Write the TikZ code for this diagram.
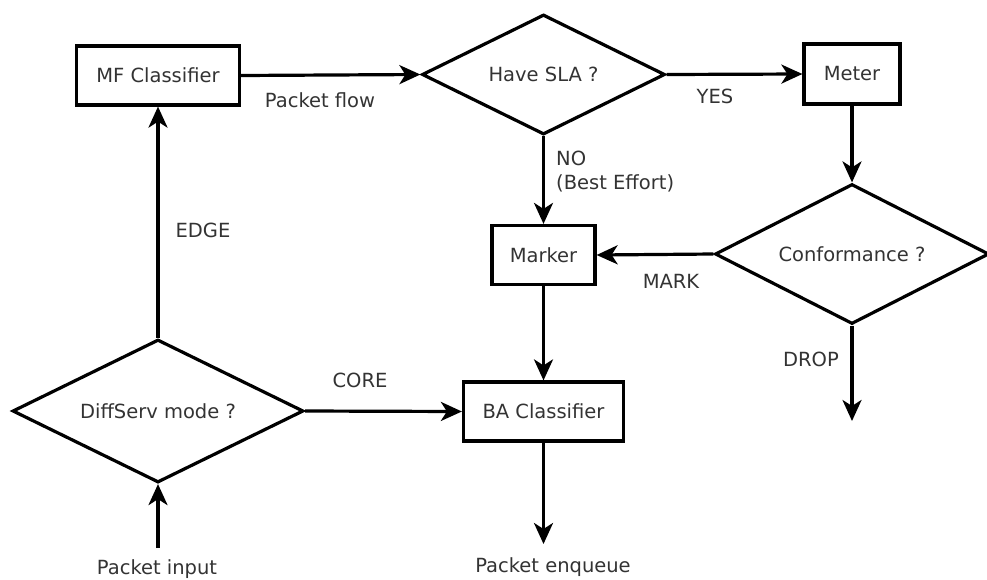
\documentclass[tikz,border=0pt]{standalone}
\usepackage{fontspec}
\setmainfont{DejaVu Sans}
\usetikzlibrary{shapes.geometric,arrows.meta}

\tikzset{
  box/.style={draw, line width=3.2pt, rectangle, inner sep=0pt, font=\fontsize{19.5}{24}\selectfont, text=black!80},
  decision/.style={draw, line width=3.2pt, diamond, inner sep=0pt, font=\fontsize{19.5}{24}\selectfont, text=black!80},
  flow/.style={line width=3.2pt, -{Stealth[length=21pt, width=19pt, inset=6pt]}},
  tag/.style={font=\fontsize{19.5}{24}\selectfont, text=black!80, inner sep=0pt, align=left}
}

\begin{document}
\begin{tikzpicture}[x=1pt, y=-1pt]
  \useasboundingbox (0,0) rectangle (987,579);

  % process boxes
  \node[box, minimum width=163pt, minimum height=59pt] (mf) at (158,75.5) {MF Classifier};
  \node[box, minimum width=96pt, minimum height=60pt] (meter) at (852,74) {Meter};
  \node[box, minimum width=103pt, minimum height=59pt] (marker) at (543.5,255) {Marker};
  \node[box, minimum width=160pt, minimum height=59pt] (ba) at (543.5,411.5) {BA Classifier};

  % decisions
  \node[decision, aspect=2.025, minimum width=243pt, minimum height=120pt] (sla) at (543.5,74.5) {Have SLA ?};
  \node[decision, aspect=1.957, minimum width=274pt, minimum height=140pt] (conf) at (852,254) {Conformance ?};
  \node[decision, aspect=2.035, minimum width=291pt, minimum height=143pt] (diff) at (158,411) {DiffServ mode ?};

  % loose ends
  \coordinate (input) at (158,548);
  \coordinate (enq) at (543.5,544);
  \coordinate (drop) at (852,421);
  \node[tag] (inputtxt) at (157,569) {Packet input};
  \node[tag] (enqtxt) at (553,567) {Packet enqueue};

  % connectors
  \draw[flow] (input) -- (diff.south);
  \draw[flow] (diff.north) -- (mf.south);
  \draw[flow] (diff.east) -- (ba.west);
  \draw[flow] (mf.east) -- (sla.west);
  \draw[flow] (sla.east) -- (meter.west);
  \draw[flow] (sla.south) -- (marker.north);
  \draw[flow] (meter.south) -- (conf.north);
  \draw[flow] (conf.west) -- (marker.east);
  \draw[flow] (conf.south) -- (drop);
  \draw[flow] (marker.south) -- (ba.north);
  \draw[flow] (ba.south) -- (enq);

  % connector labels
  \node[tag] (lflow) at (320,100) {Packet flow};
  \node[tag] (lyes) at (715,96) {YES};
  \node[tag, anchor=west] (lno) at (556,172) {NO\\(Best Effort)};
  \node[tag] (lmark) at (671,281) {MARK};
  \node[tag] (ldrop) at (811,359) {DROP};
  \node[tag] (lcore) at (360,380) {CORE};
  \node[tag] (ledge) at (203,230) {EDGE};
\end{tikzpicture}
\end{document}
